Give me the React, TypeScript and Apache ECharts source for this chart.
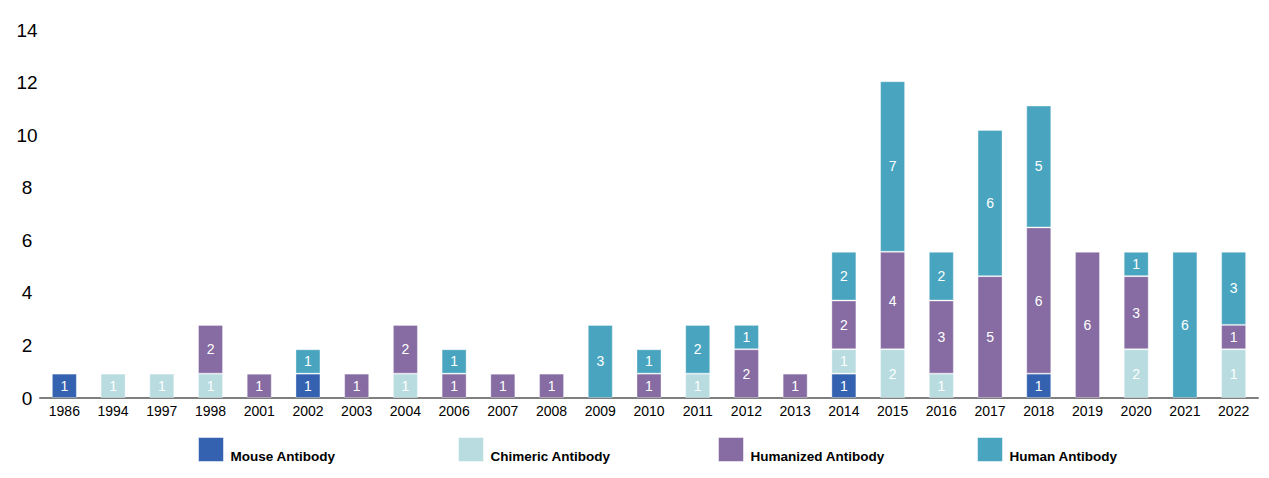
import React, { useEffect, useRef } from 'react';
import * as echarts from 'echarts';

const years = [
  '1986', '1994', '1997', '1998', '2001', '2002', '2003', '2004', '2006', '2007', '2008', '2009', '2010',
  '2011', '2012', '2013', '2014', '2015', '2016', '2017', '2018', '2019', '2020', '2021', '2022',
];

const mouse = [1, null, null, null, null, 1, null, null, null, null, null, null, null, null, null, null, 1, null, null, null, 1, null, null, null, null];
const chimeric = [null, 1, 1, 1, null, null, null, 1, null, null, null, null, null, 1, null, null, 1, 2, 1, null, null, null, 2, null, 2];
const humanized = [null, null, null, 2, 1, null, 1, 2, 1, 1, 1, null, 1, null, 2, 1, 2, 4, 3, 5, 6, 6, 3, null, 1];
const human = [null, null, null, null, null, 1, null, null, 1, null, null, 3, 1, 2, 1, null, 2, 7, 2, 6, 5, null, 1, 6, 3];

// label printed on the picture differs from the bar height here
const labelOverrides: Record<string, string> = { 'Chimeric Antibody|2022': '1' };

const seriesNames = ['Mouse Antibody', 'Chimeric Antibody', 'Humanized Antibody', 'Human Antibody'];
const seriesColors = ['#3462b0', '#b8dce0', '#866ca2', '#49a5bf'];
const yTicks = { min: 0, max: 14, interval: 2 };

const FONT = "'Liberation Sans', Arial, sans-serif";

const App: React.FC = () => {
  const chartRef = useRef<HTMLDivElement | null>(null);

  useEffect(() => {
    const chart = echarts.init(chartRef.current!, null, { renderer: 'svg' });
    const values = [mouse, chimeric, humanized, human];
    const legendLeft = [198, 458, 718, 977];

    const option: echarts.EChartsOption = {
      animation: false,
      textStyle: { fontFamily: FONT },
      grid: { left: 40, right: 11, top: 30, bottom: 80 },
      legend: seriesNames.map((name, i) => ({
        data: [name],
        left: legendLeft[i],
        top: 437,
        padding: 0,
        icon: 'rect',
        itemWidth: 25,
        itemHeight: 24,
        itemStyle: { borderColor: 'rgba(255,255,255,0.5)', borderWidth: 1 },
        formatter: '{t|{name}}',
        textStyle: {
          rich: {
            t: { fontFamily: FONT, fontWeight: 'bold', fontSize: 13.5, color: '#000', padding: [14, 0, 0, 2] },
          },
        },
        selectedMode: false,
      })),
      xAxis: {
        type: 'category',
        data: years,
        axisLine: { lineStyle: { color: '#7f7f7f', width: 2 } },
        axisTick: { show: false },
        axisLabel: { color: '#000', fontSize: 14, margin: 6, fontFamily: FONT },
      },
      yAxis: [
        {
          type: 'value',
          ...yTicks,
          axisLine: { show: false },
          axisTick: { show: false },
          splitLine: { show: false },
          axisLabel: { color: '#000', fontSize: 19, align: 'center', margin: 13, fontFamily: FONT },
        },
        {
          // bars in the reference are drawn on a slightly compressed scale
          type: 'value',
          min: 0,
          max: 15.1,
          show: false,
          splitLine: { show: false },
        },
      ],
      series: seriesNames.map((name, i) => ({
        name,
        type: 'bar',
        stack: 'total',
        yAxisIndex: 1,
        barWidth: 25,
        data: values[i],
        itemStyle: { color: seriesColors[i], borderColor: 'rgba(255,255,255,0.35)', borderWidth: 1 },
        label: {
          show: true,
          position: 'inside',
          color: '#fff',
          fontSize: 14,
          fontFamily: FONT,
          formatter: (p: any) => labelOverrides[`${name}|${p.name}`] ?? String(p.value),
        },
      })),
    };

    chart.setOption(option);
    return () => chart.dispose();
  }, []);

  return <div ref={chartRef} style={{ width: '1269px', height: '478px', margin: '-8px 0 0 -8px' }} />;
};

export default App;
